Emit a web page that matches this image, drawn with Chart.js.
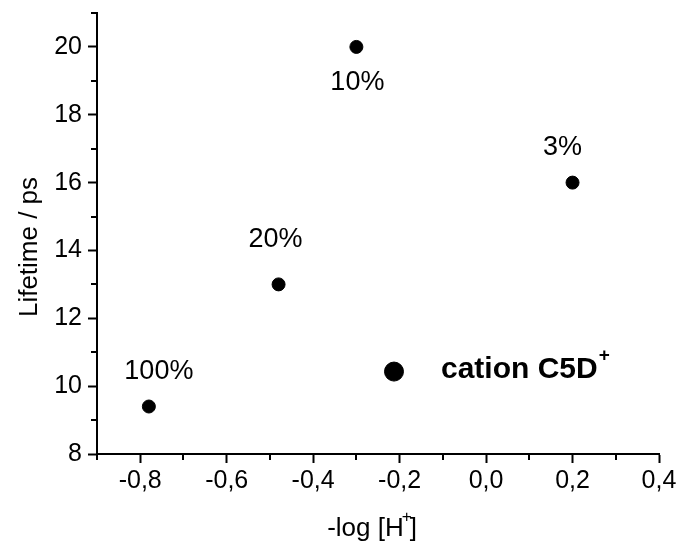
<!DOCTYPE html>
<html>
<head>
<meta charset="utf-8">
<script src="https://cdn.jsdelivr.net/npm/chart.js@4/dist/chart.umd.min.js"></script>
<style>
  html, body { margin: 0; padding: 0; background: #fff; }
  canvas { display: block; }
</style>
</head>
<body>
<canvas id="c" width="681" height="547"></canvas>
<script>
// ---- data ----
const pointLabels = ['100%', '20%', '10%', '3%'];
const xValues = [-0.78, -0.48, -0.30, 0.20];
const yValues = [9.4, 13.0, 20.0, 16.0];
const legendX = [-0.213];
const legendY = [10.43];
const legendText = 'cation C5D';
const xTicks = [-0.8, -0.6, -0.4, -0.2, 0.0, 0.2, 0.4];
const xMinorTicks = [-0.9, -0.7, -0.5, -0.3, -0.1, 0.1, 0.3];
const yTicks = [8, 10, 12, 14, 16, 18, 20];
const yMinorTicks = [9, 11, 13, 15, 17, 19, 21];
const xTitle = '-log [H';
const yTitle = 'Lifetime / ps';

// ---- style ----
const FONT = '"Liberation Sans", Arial, sans-serif';
const labelOffsets = [[10, -36], [-3, -46], [1, 35], [-10, -36]];

const annotate = {
  id: 'annotate',
  afterDraw(chart) {
    const ctx = chart.ctx;
    const xs = chart.scales.x, ys = chart.scales.y;
    ctx.save();
    ctx.fillStyle = '#000';
    ctx.strokeStyle = '#000';
    // minor ticks
    ctx.lineWidth = 2;
    ctx.beginPath();
    xMinorTicks.forEach(v => {
      const px = Math.round(xs.getPixelForValue(v));
      ctx.moveTo(px, ys.bottom); ctx.lineTo(px, ys.bottom + 6);
    });
    yMinorTicks.forEach(v => {
      const py = Math.round(ys.getPixelForValue(v));
      ctx.moveTo(xs.left, py); ctx.lineTo(xs.left - 6, py);
    });
    ctx.stroke();
    // point labels
    ctx.font = '27px ' + FONT;
    ctx.textAlign = 'center';
    ctx.textBaseline = 'middle';
    pointLabels.forEach((t, i) => {
      const px = xs.getPixelForValue(xValues[i]) + labelOffsets[i][0];
      const py = ys.getPixelForValue(yValues[i]) + labelOffsets[i][1];
      ctx.fillText(t, px, py + 1);
    });
    // legend text
    const lx = xs.getPixelForValue(legendX[0]) + 47;
    const ly = ys.getPixelForValue(legendY[0]) + 6;
    ctx.font = 'bold 30px ' + FONT;
    ctx.textAlign = 'left';
    ctx.textBaseline = 'alphabetic';
    ctx.fillText(legendText, lx, ly);
    const lw = ctx.measureText(legendText).width;
    ctx.font = 'bold 19px ' + FONT;
    ctx.fillText('+', lx + lw + 1, ly - 17);
    // x title
    ctx.font = '26px ' + FONT;
    const tw = ctx.measureText(xTitle).width;
    ctx.font = '17px ' + FONT;
    const pw = ctx.measureText('+').width;
    ctx.font = '26px ' + FONT;
    const bw = ctx.measureText(']').width;
    const total = tw + pw - 4 + bw;
    let sx = 372 - total / 2;
    const by = 536;
    ctx.fillText(xTitle, sx, by);
    ctx.font = '17px ' + FONT;
    ctx.fillText('+', sx + tw - 2, by - 14);
    ctx.font = '26px ' + FONT;
    ctx.fillText(']', sx + tw + pw - 4, by);
    // y title
    ctx.translate(37, 247);
    ctx.rotate(-Math.PI / 2);
    ctx.textAlign = 'center';
    ctx.fillText(yTitle, 0, 0);
    ctx.restore();
  }
};

new Chart(document.getElementById('c'), {
  type: 'scatter',
  data: {
    datasets: [
      {
        data: xValues.map((x, i) => ({ x: x, y: yValues[i] })),
        pointRadius: 6.5, pointBorderWidth: 1,
        backgroundColor: '#000', borderColor: '#000', pointHoverRadius: 6.5
      },
      {
        data: legendX.map((x, i) => ({ x: x, y: legendY[i] })),
        pointRadius: 9.5, pointBorderWidth: 1,
        backgroundColor: '#000', borderColor: '#000', pointHoverRadius: 9.5
      }
    ]
  },
  options: {
    responsive: false,
    animation: false,
    events: [],
    layout: { padding: { top: 13, right: 22, left: 0, bottom: 0 } },
    plugins: { legend: { display: false }, tooltip: { enabled: false } },
    scales: {
      x: {
        type: 'linear', min: -0.9, max: 0.4,
        afterBuildTicks: s => { s.ticks = xTicks.map(v => ({ value: v })); },
        afterFit: s => { s.height = 93; s.paddingLeft = 0; s.paddingRight = 0; },
        border: { display: true, color: '#000', width: 2 },
        grid: { drawOnChartArea: false, drawTicks: true, tickLength: 9, tickWidth: 2, tickColor: '#000' },
        ticks: {
          color: '#000', padding: 3,
          font: { family: FONT, size: 25 },
          callback: v => (Math.abs(v) < 1e-9 ? 0 : v).toFixed(1).replace('.', ',')
        }
      },
      y: {
        type: 'linear', min: 8, max: 21,
        afterBuildTicks: s => { s.ticks = yTicks.map(v => ({ value: v })); },
        afterFit: s => { s.width = 97; s.paddingTop = 0; s.paddingBottom = 0; },
        border: { display: true, color: '#000', width: 2 },
        grid: { drawOnChartArea: false, drawTicks: true, tickLength: 9, tickWidth: 2, tickColor: '#000' },
        ticks: {
          color: '#000', padding: 6,
          font: { family: FONT, size: 25 },
          callback: v => String(v)
        }
      }
    }
  },
  plugins: [annotate]
});
</script>
</body>
</html>
